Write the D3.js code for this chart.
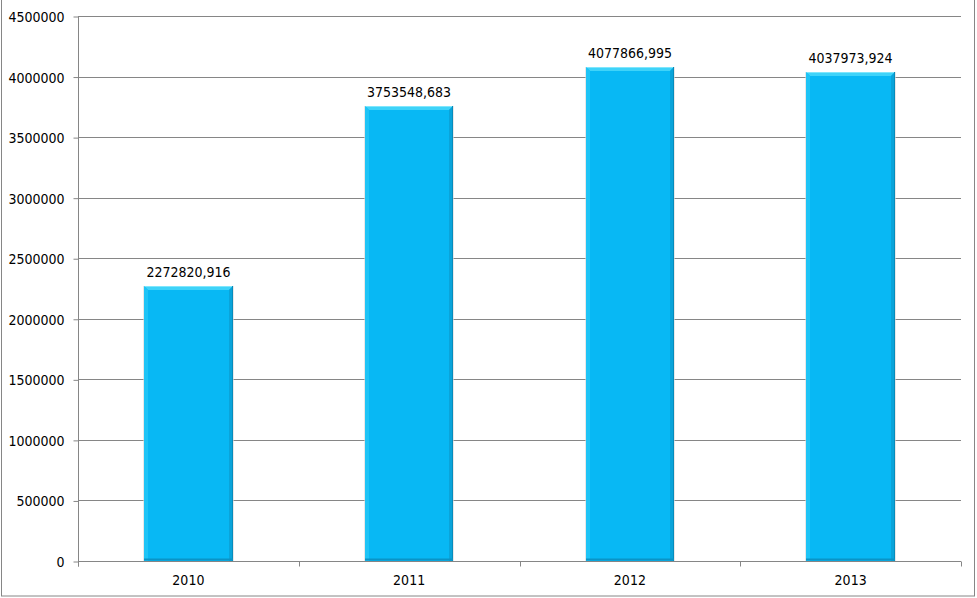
<!DOCTYPE html>
<html>
<head>
<meta charset="utf-8">
<script src="https://cdn.jsdelivr.net/npm/d3@7"></script>
<style>
  html, body { margin: 0; padding: 0; background: #fff; }
  svg { display: block; }
  text { font-family: Tahoma, "DejaVu Sans Condensed", "DejaVu Sans", sans-serif; font-size: 14px; fill: #000; }
</style>
</head>
<body>
<svg id="chart" width="977" height="598"></svg>
<script>
const categories = ["2010", "2011", "2012", "2013"];
const values = [2272820.916, 3753548.683, 4077866.995, 4037973.924];
const valueLabels = ["2272820,916", "3753548,683", "4077866,995", "4037973,924"];
const yTicks = [0, 500000, 1000000, 1500000, 2000000, 2500000, 3000000, 3500000, 4000000, 4500000];

const W = 977, H = 598;
const margin = { left: 78, right: 16, top: 16, bottom: 37 };
const svg = d3.select("#chart");

// outer border
svg.append("rect")
  .attr("x", 1.5).attr("y", -1).attr("width", 973).attr("height", 597)
  .attr("fill", "none").attr("stroke", "#868686").attr("stroke-width", 1);

const x = d3.scaleBand().domain(categories).range([margin.left, W - margin.right]).paddingInner(0.6).paddingOuter(0.3);
const xc = d3.scaleBand().domain(categories).range([margin.left, W - margin.right]);
const y = d3.scaleLinear().domain([0, 4500000]).range([H - margin.bottom, margin.top]);

const gridColor = "#868686";

// gridlines
svg.append("g").selectAll("line").data(yTicks.slice(1)).join("line")
  .attr("x1", margin.left).attr("x2", W - margin.right)
  .attr("y1", d => Math.round(y(d)) + 0.5).attr("y2", d => Math.round(y(d)) + 0.5)
  .attr("stroke", gridColor);

// y axis
const yAxis = d3.axisLeft(y).tickValues(yTicks).tickSize(5).tickPadding(9).tickFormat(d3.format("d"));
const gy = svg.append("g").attr("transform", `translate(${margin.left + 0.5},0.5)`).call(yAxis);
gy.select(".domain").attr("stroke", gridColor).attr("d", `M0,${y(4500000)}V${y(0) + 5}`);
gy.selectAll(".tick line").attr("stroke", gridColor);
gy.selectAll("text").attr("font-family", null).attr("font-size", null).attr("fill", "#000").attr("dy", "0.36em");

// x axis
const xAxis = d3.axisBottom(xc).tickSize(0).tickPadding(14);
const gx = svg.append("g").attr("transform", `translate(0,${Math.round(y(0)) + 0.5})`).call(xAxis);
gx.select(".domain").attr("stroke", gridColor).attr("d", `M${margin.left},0H${W - margin.right}`);
gx.selectAll("text").attr("font-family", null).attr("font-size", null).attr("fill", "#000");
// category separator ticks
const sepPos = categories.map(c => xc(c)).concat([W - margin.right]);
gx.append("g").selectAll("line").data(sepPos).join("line")
  .attr("x1", d => Math.round(d) + 0.5).attr("x2", d => Math.round(d) + 0.5)
  .attr("y1", 0).attr("y2", 5).attr("stroke", gridColor);

// bars with bevel
const bars = svg.append("g");
const data = categories.map((c, i) => ({ c, v: values[i], label: valueLabels[i] }));
data.forEach(d => {
  const x0 = Math.round(x(d.c)), x1 = Math.round(x(d.c) + x.bandwidth());
  const y0 = Math.round(y(d.v)), y1 = Math.round(y(0));
  const g = bars.append("g");
  const b = 4;
  // soft shadow
  g.append("rect").attr("x", x0 - 1).attr("y", y0).attr("width", x1 - x0 + 2).attr("height", y1 - y0)
    .attr("fill", "#d8d8d8").attr("opacity", 0.6);
  // main body
  g.append("rect").attr("x", x0).attr("y", y0).attr("width", x1 - x0).attr("height", y1 - y0).attr("fill", "#08b8f4");
  // top bevel
  g.append("polygon").attr("points", `${x0},${y0} ${x1},${y0} ${x1 - b},${y0 + b} ${x0 + b},${y0 + b}`).attr("fill", "#3fd3f9");
  g.append("line").attr("x1", x0).attr("x2", x1).attr("y1", y0 + 0.5).attr("y2", y0 + 0.5).attr("stroke", "#7fe6fc");
  // left bevel
  g.append("polygon").attr("points", `${x0},${y0} ${x0 + b},${y0 + b} ${x0 + b},${y1} ${x0},${y1}`).attr("fill", "#1ec4f6");
  // right bevel
  g.append("polygon").attr("points", `${x1},${y0} ${x1 - b},${y0 + b} ${x1 - b},${y1} ${x1},${y1}`).attr("fill", "#0aa4da");
  g.append("line").attr("x1", x1 - 0.5).attr("x2", x1 - 0.5).attr("y1", y0).attr("y2", y1).attr("stroke", "#078cbc");
  // bottom edge
  g.append("line").attr("x1", x0).attr("x2", x1).attr("y1", y1 - 1.5).attr("y2", y1 - 1.5).attr("stroke", "#0a94c6").attr("stroke-width", 2);
  // label
  svg.append("text").attr("x", (x0 + x1) / 2).attr("y", y0 - 9).attr("text-anchor", "middle").text(d.label);
});
</script>
</body>
</html>
